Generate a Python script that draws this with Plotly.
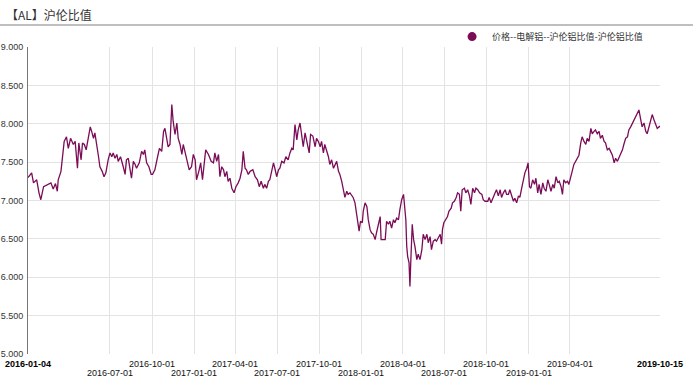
import plotly.graph_objects as go

TITLE = "【AL】沪伦比值"
SERIES_NAME = "价格--电解铝--沪伦铝比值-沪伦铝比值"
LINE_COLOR = "#7b0c57"

dates = [
    "2016-01-04", "2016-01-12", "2016-01-16", "2016-01-23", "2016-01-28", "2016-02-01", "2016-02-07", "2016-02-17",
    "2016-02-23", "2016-02-28", "2016-03-04", "2016-03-08", "2016-03-10", "2016-03-16", "2016-03-19", "2016-03-23",
    "2016-03-28", "2016-04-01", "2016-04-06", "2016-04-12", "2016-04-16", "2016-04-21", "2016-04-24", "2016-04-29",
    "2016-05-02", "2016-05-06", "2016-05-10", "2016-05-15", "2016-05-19", "2016-05-22", "2016-05-26", "2016-05-29",
    "2016-06-02", "2016-06-06", "2016-06-09", "2016-06-14", "2016-06-18", "2016-06-22", "2016-06-27", "2016-07-01",
    "2016-07-05", "2016-07-08", "2016-07-12", "2016-07-16", "2016-07-19", "2016-07-24", "2016-07-30", "2016-08-03",
    "2016-08-06", "2016-08-10", "2016-08-14", "2016-08-17", "2016-08-21", "2016-08-25", "2016-08-28", "2016-09-03",
    "2016-09-08", "2016-09-12", "2016-09-15", "2016-09-19", "2016-09-24", "2016-09-29", "2016-10-02", "2016-10-07",
    "2016-10-13", "2016-10-17", "2016-10-22", "2016-10-26", "2016-10-29", "2016-11-02", "2016-11-05", "2016-11-09",
    "2016-11-13", "2016-11-16", "2016-11-20", "2016-11-24", "2016-11-27", "2016-12-01", "2016-12-05", "2016-12-08",
    "2016-12-15", "2016-12-21", "2016-12-26", "2016-12-30", "2017-01-03", "2017-01-06", "2017-01-11", "2017-01-15",
    "2017-01-19", "2017-01-23", "2017-01-26", "2017-02-01", "2017-02-07", "2017-02-12", "2017-02-15", "2017-02-19",
    "2017-02-23", "2017-02-26", "2017-03-02", "2017-03-06", "2017-03-09", "2017-03-13", "2017-03-16", "2017-03-20",
    "2017-03-24", "2017-03-29", "2017-04-02", "2017-04-07", "2017-04-11", "2017-04-15", "2017-04-18", "2017-04-22",
    "2017-04-25", "2017-04-29", "2017-05-03", "2017-05-09", "2017-05-14", "2017-05-19", "2017-05-23", "2017-05-27",
    "2017-06-01", "2017-06-04", "2017-06-08", "2017-06-12", "2017-06-15", "2017-06-19", "2017-06-23", "2017-06-26",
    "2017-06-30", "2017-07-04", "2017-07-07", "2017-07-11", "2017-07-16", "2017-07-20", "2017-07-25", "2017-07-29",
    "2017-08-02", "2017-08-05", "2017-08-09", "2017-08-13", "2017-08-16", "2017-08-20", "2017-08-24", "2017-08-27",
    "2017-08-31", "2017-09-05", "2017-09-09", "2017-09-12", "2017-09-17", "2017-09-22", "2017-09-25", "2017-09-29",
    "2017-10-03", "2017-10-06", "2017-10-10", "2017-10-13", "2017-10-17", "2017-10-21", "2017-10-24", "2017-10-28",
    "2017-11-01", "2017-11-04", "2017-11-08", "2017-11-12", "2017-11-15", "2017-11-19", "2017-11-23", "2017-11-26",
    "2017-11-30", "2017-12-03", "2017-12-07", "2017-12-11", "2017-12-14", "2017-12-18", "2017-12-22", "2017-12-24",
    "2017-12-27", "2017-12-30", "2018-01-03", "2018-01-05", "2018-01-09", "2018-01-13", "2018-01-16", "2018-01-20",
    "2018-01-23", "2018-01-27", "2018-01-31", "2018-02-03", "2018-02-07", "2018-02-11", "2018-02-13", "2018-02-18",
    "2018-02-22", "2018-02-25", "2018-03-01", "2018-03-04", "2018-03-08", "2018-03-12", "2018-03-15", "2018-03-19",
    "2018-03-23", "2018-03-26", "2018-03-30", "2018-04-03", "2018-04-05", "2018-04-08", "2018-04-10", "2018-04-12",
    "2018-04-15", "2018-04-17", "2018-04-19", "2018-04-22", "2018-04-25", "2018-04-28", "2018-05-02", "2018-05-05",
    "2018-05-09", "2018-05-13", "2018-05-16", "2018-05-20", "2018-05-24", "2018-05-27", "2018-05-31", "2018-06-03",
    "2018-06-07", "2018-06-11", "2018-06-14", "2018-06-18", "2018-06-22", "2018-06-25", "2018-06-27", "2018-06-30",
    "2018-07-05", "2018-07-08", "2018-07-11", "2018-07-16", "2018-07-19", "2018-07-23", "2018-07-27", "2018-07-30",
    "2018-08-03", "2018-08-06", "2018-08-09", "2018-08-14", "2018-08-17", "2018-08-21", "2018-08-25", "2018-08-28",
    "2018-09-01", "2018-09-05", "2018-09-08", "2018-09-12", "2018-09-16", "2018-09-21", "2018-09-24", "2018-09-28",
    "2018-10-04", "2018-10-07", "2018-10-11", "2018-10-15", "2018-10-20", "2018-10-23", "2018-10-27", "2018-10-31",
    "2018-11-03", "2018-11-07", "2018-11-11", "2018-11-14", "2018-11-18", "2018-11-21", "2018-11-25", "2018-11-29",
    "2018-12-02", "2018-12-06", "2018-12-10", "2018-12-13", "2018-12-17", "2018-12-21", "2018-12-24", "2018-12-28",
    "2018-12-31", "2019-01-03", "2019-01-06", "2019-01-10", "2019-01-14", "2019-01-17", "2019-01-21", "2019-01-24",
    "2019-01-28", "2019-02-01", "2019-02-04", "2019-02-08", "2019-02-12", "2019-02-15", "2019-02-19", "2019-02-23",
    "2019-02-26", "2019-03-02", "2019-03-06", "2019-03-09", "2019-03-13", "2019-03-16", "2019-03-19", "2019-03-23",
    "2019-03-27", "2019-03-30", "2019-04-03", "2019-04-07", "2019-04-10", "2019-04-14", "2019-04-17", "2019-04-21",
    "2019-04-25", "2019-04-28", "2019-05-02", "2019-05-06", "2019-05-09", "2019-05-13", "2019-05-17", "2019-05-20",
    "2019-05-24", "2019-05-27", "2019-05-31", "2019-06-04", "2019-06-07", "2019-06-11", "2019-06-15", "2019-06-18",
    "2019-06-22", "2019-06-26", "2019-06-29", "2019-07-03", "2019-07-07", "2019-07-10", "2019-07-14", "2019-07-17",
    "2019-07-21", "2019-07-25", "2019-07-28", "2019-08-01", "2019-08-05", "2019-08-08", "2019-08-12", "2019-08-16",
    "2019-08-19", "2019-08-23", "2019-08-26", "2019-08-30", "2019-09-03", "2019-09-06", "2019-09-10", "2019-09-14",
    "2019-09-17", "2019-09-21", "2019-09-25", "2019-09-28", "2019-10-02", "2019-10-05", "2019-10-09", "2019-10-15",
]

values = [
    7.30, 7.36, 7.23, 7.27, 7.10, 7.01, 7.18, 7.21,
    7.23, 7.15, 7.22, 7.12, 7.27, 7.38, 7.55, 7.77,
    7.83, 7.68, 7.81, 7.73, 7.77, 7.42, 7.75, 7.53,
    7.75, 7.73, 7.66, 7.86, 7.96, 7.90, 7.81, 7.88,
    7.75, 7.57, 7.44, 7.38, 7.31, 7.36, 7.53, 7.62,
    7.57, 7.62, 7.55, 7.60, 7.51, 7.57, 7.44, 7.34,
    7.53, 7.55, 7.40, 7.29, 7.51, 7.47, 7.42, 7.49,
    7.64, 7.60, 7.66, 7.49, 7.44, 7.34, 7.34, 7.40,
    7.57, 7.68, 7.64, 7.90, 7.94, 7.77, 7.70, 7.73,
    8.25, 8.03, 7.86, 8.01, 7.81, 7.73, 7.60, 7.73,
    7.53, 7.40, 7.44, 7.60, 7.53, 7.27, 7.38, 7.49,
    7.27, 7.53, 7.66, 7.60, 7.51, 7.49, 7.62, 7.51,
    7.60, 7.31, 7.44, 7.40, 7.31, 7.38, 7.25, 7.29,
    7.16, 7.10, 7.18, 7.23, 7.29, 7.40, 7.64, 7.42,
    7.40, 7.34, 7.38, 7.40, 7.31, 7.27, 7.18, 7.25,
    7.16, 7.21, 7.16, 7.25, 7.27, 7.38, 7.49, 7.42,
    7.31, 7.40, 7.42, 7.51, 7.49, 7.57, 7.53, 7.62,
    7.68, 7.66, 7.99, 7.79, 7.92, 8.01, 7.86, 7.70,
    7.88, 7.73, 7.62, 7.86, 7.84, 7.70, 7.81, 7.77,
    7.70, 7.77, 7.62, 7.73, 7.66, 7.57, 7.47, 7.53,
    7.42, 7.47, 7.51, 7.38, 7.34, 7.25, 7.10, 7.04,
    7.12, 7.08, 7.10, 7.06, 7.04, 6.97, 6.79, 6.73,
    6.60, 6.73, 6.71, 6.86, 6.97, 6.92, 6.75, 6.62,
    6.58, 6.56, 6.49, 6.58, 6.71, 6.79, 6.49, 6.49,
    6.49, 6.73, 6.69, 6.73, 6.64, 6.75, 6.71, 6.77,
    6.75, 6.88, 7.01, 7.08, 6.97, 6.75, 6.40, 6.27,
    6.19, 5.88, 6.23, 6.69, 6.49, 6.40, 6.23, 6.30,
    6.23, 6.36, 6.56, 6.49, 6.56, 6.45, 6.53, 6.36,
    6.47, 6.49, 6.47, 6.51, 6.56, 6.43, 6.62, 6.71,
    6.75, 6.79, 6.86, 6.90, 6.97, 6.99, 7.04, 7.10,
    7.08, 6.86, 7.14, 7.16, 7.10, 7.14, 7.06, 6.95,
    7.16, 7.10, 7.16, 7.14, 7.10, 7.08, 7.01, 6.99,
    6.99, 7.04, 6.97, 7.04, 7.10, 7.14, 7.06, 7.14,
    7.04, 7.10, 7.14, 7.08, 7.08, 7.14, 7.06, 6.99,
    7.03, 6.97, 7.06, 7.04, 7.16, 7.29, 7.36, 7.42,
    7.49, 7.18, 7.16, 7.27, 7.21, 7.29, 7.10, 7.21,
    7.08, 7.23, 7.16, 7.12, 7.27, 7.21, 7.12, 7.21,
    7.16, 7.31, 7.23, 7.25, 7.18, 7.08, 7.27, 7.23,
    7.25, 7.21, 7.29, 7.40, 7.47, 7.51, 7.55, 7.59,
    7.75, 7.83, 7.77, 7.73, 7.81, 7.77, 7.94, 7.87,
    7.90, 7.92, 7.87, 7.90, 7.81, 7.85, 7.77, 7.75,
    7.66, 7.68, 7.64, 7.59, 7.49, 7.55, 7.51, 7.55,
    7.62, 7.66, 7.73, 7.81, 7.83, 7.92, 7.96, 8.01,
    8.05, 8.09, 8.12, 8.18, 8.05, 7.96, 8.01, 7.90,
    7.87, 7.96, 8.03, 8.12, 8.05, 7.99, 7.94, 7.97,
]

x_range = ["2016-01-04", "2019-10-15"]
y_ticks = [5.0, 5.5, 6.0, 6.5, 7.0, 7.5, 8.0, 8.5, 9.0]
grid_dates = ["2016-07-01", "2016-10-01", "2017-01-01", "2017-04-01", "2017-07-01", "2017-10-01",
              "2018-01-01", "2018-04-01", "2018-07-01", "2018-10-01", "2019-01-01", "2019-04-01"]
upper_labels = ["2016-10-01", "2017-04-01", "2017-10-01", "2018-04-01", "2018-10-01", "2019-04-01"]
lower_labels = ["2016-07-01", "2017-01-01", "2017-07-01", "2018-01-01", "2018-07-01", "2019-01-01"]
end_labels = ["2016-01-04", "2019-10-15"]

FONT = "Liberation Sans, Arial, Noto Sans CJK SC, sans-serif"
CJK = "Noto Sans CJK SC, sans-serif"

fig = go.Figure()
fig.add_trace(go.Scatter(x=dates, y=values, mode="lines", showlegend=False,
                         line=dict(color=LINE_COLOR, width=1.3), name=SERIES_NAME))
fig.add_trace(go.Scatter(x=[None], y=[None], mode="markers", name=SERIES_NAME,
                         marker=dict(color=LINE_COLOR, size=9, symbol="circle")))

annotations = []
for d in upper_labels:
    annotations.append(dict(x=d, y=0, xref="x", yref="paper", text=d, showarrow=False,
                            yanchor="middle", yshift=-10, font=dict(size=9, color="#111", family=FONT)))
for d in lower_labels:
    annotations.append(dict(x=d, y=0, xref="x", yref="paper", text=d, showarrow=False,
                            yanchor="middle", yshift=-19, font=dict(size=9, color="#111", family=FONT)))
for d in end_labels:
    annotations.append(dict(x=d, y=0, xref="x", yref="paper", text="<b>" + d + "</b>", showarrow=False,
                            yanchor="middle", yshift=-10, font=dict(size=9, color="#000", family=FONT)))
annotations.append(dict(x=0, y=1, xref="paper", yref="paper", xanchor="left", yanchor="middle",
                        text=TITLE, showarrow=False, xshift=-24, yshift=33,
                        font=dict(size=12, color="#333", family=CJK)))

fig.update_layout(
    width=693, height=380,
    margin=dict(l=28, r=33, t=47, b=26, autoexpand=False),
    paper_bgcolor="white", plot_bgcolor="white",
    font=dict(family=FONT, size=9, color="#333"),
    annotations=annotations,
    shapes=[dict(type="line", xref="paper", yref="paper", x0=-28 / 632, x1=665 / 632,
                 y0=1 + 22 / 307, y1=1 + 22 / 307, line=dict(color="#aaaaaa", width=1.5))],
    legend=dict(x=0.671, y=1.034, xanchor="left", yanchor="middle", orientation="h",
                font=dict(size=9, color="#333", family=CJK), bgcolor="rgba(0,0,0,0)",
                itemwidth=30),
    xaxis=dict(type="date", range=x_range, tickvals=grid_dates, ticktext=[""] * len(grid_dates),
               showgrid=True, gridcolor="#e3e3e3", gridwidth=1, zeroline=False, showline=False,
               ticks="", automargin=False),
    yaxis=dict(range=[5, 9], tickvals=y_ticks, tickformat=".3f", showgrid=True, gridcolor="#e3e3e3",
               gridwidth=1, zeroline=False, showline=True, linecolor="#777", linewidth=1, ticks="",
               ticklabelstandoff=2, automargin=False, tickfont=dict(size=9, color="#333", family=FONT)),
)

fig.write_html("out.html", config={"displayModeBar": False},
               post_script="document.body.style.margin='0';")
